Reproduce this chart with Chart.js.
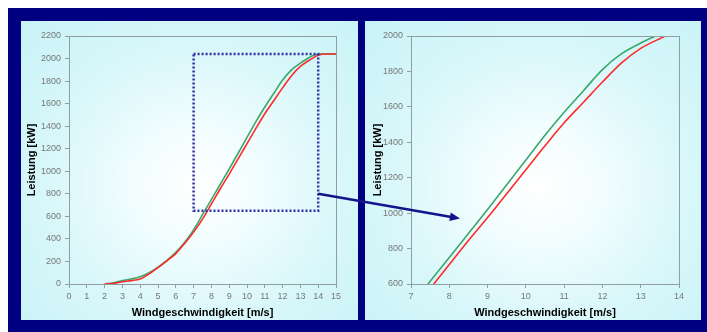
<!DOCTYPE html>
<html>
<head>
<meta charset="utf-8">
<script src="https://cdn.jsdelivr.net/npm/chart.js@4"></script>
<style>
  html, body { margin: 0; padding: 0; background: #fff; }
  body { width: 707px; height: 332px; position: relative; overflow: hidden; font-family: "Liberation Sans", Arial, sans-serif; }
  #frame { position: absolute; left: 8px; top: 8px; width: 699px; height: 324px; background: #000080; }
  .panel { position: absolute; top: 21px; height: 299px;
    background: radial-gradient(ellipse at 52% 55%, #ffffff 0%, #f2fdfe 25%, #d8f7fa 60%, #c8f3f7 100%); }
  #pLeft { left: 21px; width: 337px; }
  #pRight { left: 365px; width: 336px; }
  .panel canvas { position: absolute; left: 0; top: 0; }
  #overlay { position: absolute; left: 0; top: 0; pointer-events: none; }
</style>
</head>
<body>
<div id="frame"></div>
<div class="panel" id="pLeft"><canvas id="leftChart" width="337" height="299"></canvas></div>
<div class="panel" id="pRight"><canvas id="rightChart" width="336" height="299"></canvas></div>
<canvas id="overlay" width="707" height="332"></canvas>
<script>
// Daten: Leistungskurven (Windgeschwindigkeit m/s -> Leistung kW)
const windSpeed = [2, 2.5, 3, 3.5, 4, 4.5, 5, 5.5, 6, 6.5, 7, 7.5, 8, 8.5, 9, 9.5, 10, 10.5, 11, 11.5, 12, 12.5, 13, 13.5, 14, 14.5, 15];
const powerGreen = [0, 10, 30, 45, 65, 100, 150, 210, 280, 370, 480, 615, 750, 885, 1020, 1160, 1300, 1440, 1570, 1690, 1810, 1900, 1960, 2010, 2040, 2040, 2040];
const powerRed = [0, 5, 20, 30, 45, 90, 145, 205, 270, 360, 460, 575, 710, 845, 975, 1110, 1245, 1380, 1510, 1625, 1740, 1848, 1930, 1985, 2030, 2040, 2040];

const xTitle = "Windgeschwindigkeit [m/s]";
const yTitle = "Leistung [kW]";

// Zoom-Ausschnitt (Rechteck im linken Diagramm) und Pfeil
const zoomBox = { x1: 7, x2: 14, y1: 650, y2: 2040 };
const arrowFrom = { x: 14, y: 800 };
const arrowTo = { x: 8.28, y: 970 };

const AXIS_GRAY = "#8f9f9f";
const TICK_FONT = { family: "Liberation Sans", size: 9 };
const TITLE_FONT = { family: "Liberation Sans", size: 11, weight: "bold" };

function toPoints(ys) {
    return windSpeed.map((x, i) => ({ x: x, y: ys[i] }));
}

// Rahmen um die Plotfläche
const borderPlugin = {
    id: "plotBorder",
    afterDraw(chart) {
        const a = chart.chartArea, ctx = chart.ctx;
        ctx.save();
        ctx.strokeStyle = AXIS_GRAY;
        ctx.lineWidth = 1;
        ctx.strokeRect(a.left + 0.5, a.top + 0.5, a.right - a.left, a.bottom - a.top);
        ctx.restore();
    }
};

const boxPlugin = {
    id: "zoomBox",
    afterDraw(chart) {
        if (chart.canvas.id !== "leftChart") return;
        const sx = chart.scales.x, sy = chart.scales.y, ctx = chart.ctx;
        const l = sx.getPixelForValue(zoomBox.x1), r = sx.getPixelForValue(zoomBox.x2);
        const t = sy.getPixelForValue(zoomBox.y2), b = sy.getPixelForValue(zoomBox.y1);
        ctx.save();
        ctx.strokeStyle = "#3030aa";
        ctx.lineWidth = 2.5;
        ctx.setLineDash([2, 2]);
        ctx.strokeRect(l, t, r - l, b - t);
        ctx.restore();
    }
};

function makeChart(id, xMin, xMax, yMin, yMax, yStep, leftPad, yWidth) {
    return new Chart(document.getElementById(id), {
        type: "line",
        data: {
            datasets: [
                { data: toPoints(powerRed), borderColor: "#ff2a2a", borderWidth: 1.6, pointRadius: 0, cubicInterpolationMode: "monotone" },
                { data: toPoints(powerGreen), borderColor: "#3aa86a", borderWidth: 1.6, pointRadius: 0, cubicInterpolationMode: "monotone" }
            ]
        },
        options: {
            responsive: false,
            animation: false,
            layout: { padding: { top: 15, right: 22, left: leftPad, bottom: 0 } },
            plugins: { legend: { display: false }, tooltip: { enabled: false } },
            scales: {
                x: {
                    type: "linear", min: xMin, max: xMax,
                    ticks: { stepSize: 1, color: "#777", font: TICK_FONT, padding: 3, maxRotation: 0, callback: v => String(v) },
                    grid: { drawOnChartArea: false, color: AXIS_GRAY, tickLength: 4 },
                    border: { color: AXIS_GRAY },
                    title: { display: true, text: xTitle, color: "#000", font: TITLE_FONT, padding: { top: 0, bottom: 0 } },
                    afterFit(s) { s.height = 36; }
                },
                y: {
                    min: yMin, max: yMax,
                    ticks: { stepSize: yStep, color: "#777", font: TICK_FONT, padding: 4, callback: v => String(v) },
                    grid: { drawOnChartArea: false, color: AXIS_GRAY, tickLength: 4 },
                    border: { color: AXIS_GRAY },
                    title: { display: true, text: yTitle, color: "#000", font: TITLE_FONT, padding: { top: 0, bottom: 0 } },
                    afterFit(s) { s.width = yWidth; }
                }
            }
        },
        plugins: [borderPlugin, boxPlugin]
    });
}

const leftChart = makeChart("leftChart", 0, 15, 0, 2200, 200, 4, 44);
const rightChart = makeChart("rightChart", 7, 14, 600, 2000, 200, 6, 40);

// Pfeil vom Ausschnitt zum Zoom-Diagramm
function drawArrow() {
    const ctx = document.getElementById("overlay").getContext("2d");
    const x1 = 21 + leftChart.scales.x.getPixelForValue(arrowFrom.x);
    const y1 = 21 + leftChart.scales.y.getPixelForValue(arrowFrom.y);
    const x2 = 365 + rightChart.scales.x.getPixelForValue(arrowTo.x);
    const y2 = 21 + rightChart.scales.y.getPixelForValue(arrowTo.y);
    const ang = Math.atan2(y2 - y1, x2 - x1);
    const head = 11;
    ctx.strokeStyle = "#14148c";
    ctx.fillStyle = "#14148c";
    ctx.lineWidth = 2.5;
    ctx.beginPath();
    ctx.moveTo(x1, y1);
    ctx.lineTo(x2 - head * Math.cos(ang) * 0.8, y2 - head * Math.sin(ang) * 0.8);
    ctx.stroke();
    ctx.beginPath();
    ctx.moveTo(x2, y2);
    ctx.lineTo(x2 - head * Math.cos(ang - 0.4), y2 - head * Math.sin(ang - 0.4));
    ctx.lineTo(x2 - head * Math.cos(ang + 0.4), y2 - head * Math.sin(ang + 0.4));
    ctx.closePath();
    ctx.fill();
}
drawArrow();
</script>
</body>
</html>
